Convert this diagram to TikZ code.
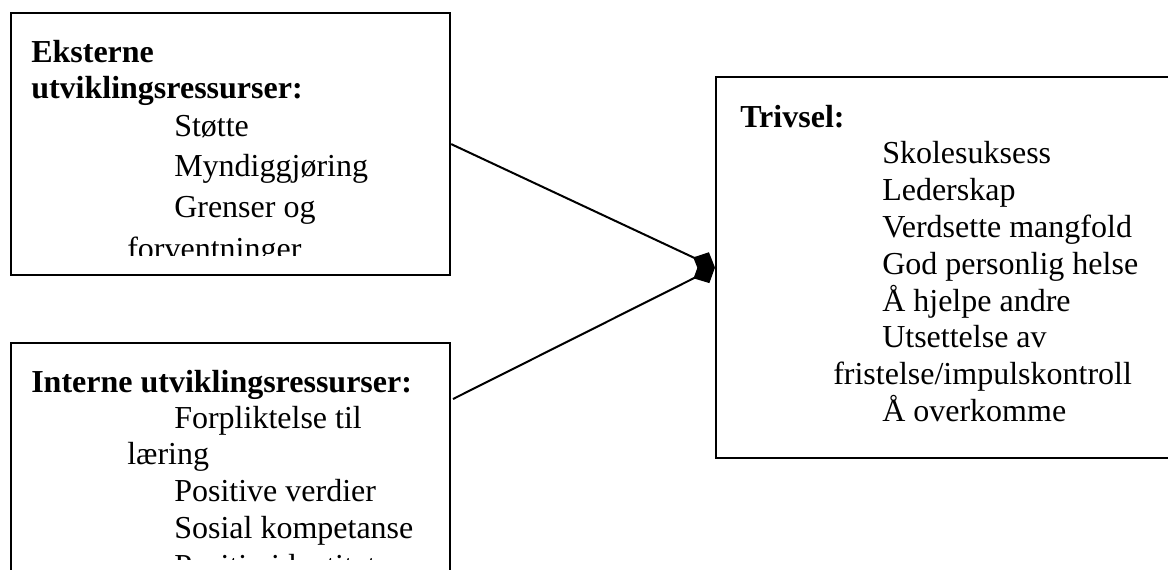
\documentclass[tikz,border=0pt]{standalone}
\usepackage{fontspec}
\setmainfont{Liberation Serif}
\usetikzlibrary{arrows.meta}
\begin{document}
\begin{tikzpicture}[x=0.75pt,y=-0.75pt,
  box/.style={draw,line width=1.6pt,anchor=north west,inner sep=0pt},
  txt/.style={anchor=base west,inner sep=0pt,font=\fontsize{24}{28}\selectfont},
  head/.style={txt,font=\fontsize{24}{28}\selectfont\bfseries},
  conn/.style={line width=1.5pt,-{Diamond[length=18pt,width=17pt]}}]
\useasboundingbox (0,0) rectangle (1168,569);
\clip (0,0) rectangle (1168,569);
% boxes
\node[box,minimum width=329.25pt,minimum height=196.5pt] (ext) at (10,12) {};
\node[box,minimum width=329.25pt,minimum height=193.5pt] (int) at (10,342) {};
\node[box,minimum width=348.75pt,minimum height=285.75pt] (triv) at (715,76) {};
% box 1 text
\begin{scope}
\clip (11,13) rectangle (448,255);
\node[head] (e1) at (31,62) {Eksterne};
\node[head] (e2) at (31,98) {utviklingsressurser:};
\node[txt] (e3) at (174,136) {Støtte};
\node[txt] (e4) at (174,176) {Myndiggjøring};
\node[txt] (e5) at (174,217) {Grenser og};
\node[txt] (e6) at (127,259) {forventninger};
\end{scope}
% box 2 text
\begin{scope}
\clip (11,343) rectangle (448,559);
\node[head] (i1) at (31,392) {Interne utviklingsressurser:};
\node[txt] (i2) at (174,428) {Forpliktelse til};
\node[txt] (i3) at (127,464) {læring};
\node[txt] (i4) at (174,501) {Positive verdier};
\node[txt] (i5) at (174,538) {Sosial kompetanse};
\node[txt] (i6) at (174,576) {Positiv identitet};
\end{scope}
% box 3 text
\node[head] (t0) at (740,127) {Trivsel:};
\node[txt] (t1) at (882,163.8) {Skolesuksess};
\node[txt] (t2) at (882,200.6) {Lederskap};
\node[txt] (t3) at (882,237.4) {Verdsette mangfold};
\node[txt] (t4) at (882,274.2) {God personlig helse};
\node[txt] (t5) at (882,311) {Å hjelpe andre};
\node[txt] (t6) at (882,347.8) {Utsettelse av};
\node[txt] (t7) at (833,384.6) {fristelse/impulskontroll};
\node[txt] (t8) at (882,421.4) {Å overkomme};
% connectors
\coordinate (c2) at (453,399);
\draw[conn] (ext.east) -- (triv.west);
\draw[conn] (c2) -- (triv.west);
\end{tikzpicture}
\end{document}
